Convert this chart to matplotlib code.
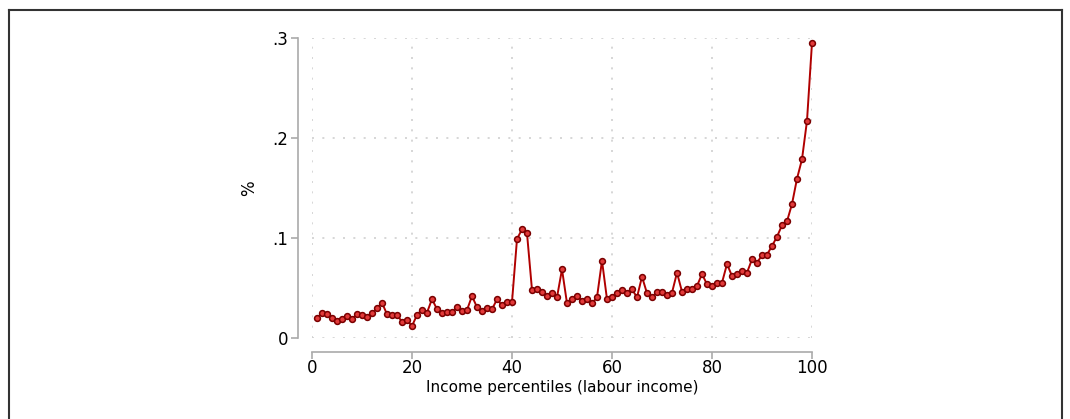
import matplotlib
matplotlib.use("Agg")
from matplotlib import pyplot as plt
from matplotlib.lines import Line2D

# percentiles 1..100 and share (%)
percentile = list(range(1, 101))
share = [
    0.0203, 0.0247, 0.0240, 0.0200, 0.0173, 0.0193, 0.0217, 0.0193, 0.0237, 0.0227,
    0.0213, 0.0247, 0.0297, 0.0353, 0.0237, 0.0230, 0.0230, 0.0163, 0.0180, 0.0120,
    0.0230, 0.0285, 0.0253, 0.0390, 0.0287, 0.0247, 0.0260, 0.0260, 0.0307, 0.0267,
    0.0280, 0.0420, 0.0307, 0.0273, 0.0300, 0.0287, 0.0387, 0.0327, 0.0360, 0.0360,
    0.0990, 0.1087, 0.1047, 0.0480, 0.0493, 0.0463, 0.0420, 0.0447, 0.0407, 0.0687,
    0.0347, 0.0387, 0.0420, 0.0373, 0.0387, 0.0347, 0.0407, 0.0773, 0.0387, 0.0413,
    0.0447, 0.0480, 0.0447, 0.0487, 0.0407, 0.0613, 0.0447, 0.0407, 0.0460, 0.0458,
    0.0430, 0.0453, 0.0653, 0.0463, 0.0487, 0.0493, 0.0520, 0.0640, 0.0537, 0.0520,
    0.0553, 0.0553, 0.0740, 0.0620, 0.0640, 0.0670, 0.0653, 0.0787, 0.0753, 0.0827,
    0.0833, 0.0920, 0.1013, 0.1127, 0.1167, 0.1340, 0.1593, 0.1787, 0.2173, 0.2953,
]
xticks = [0, 20, 40, 60, 80, 100]
yticks = [0, 0.1, 0.2, 0.3]
ytick_labels = ["0", ".1", ".2", ".3"]

W, H = 1070, 419
fig = plt.figure(figsize=(W / 100, H / 100), dpi=100)
ax = fig.add_axes([312 / W, (H - 338) / H, 500 / W, 300 / H])

# outer frame (bottom edge lies outside the picture)
frame = dict(color="#333333", lw=1.5, transform=fig.transFigure)
fig.add_artist(Line2D([9 / W, 9 / W], [0, 1 - 10 / H], **frame))
fig.add_artist(Line2D([9 / W, 1062 / W], [1 - 10 / H, 1 - 10 / H], **frame))
fig.add_artist(Line2D([1062 / W, 1062 / W], [0, 1 - 10 / H], **frame))

ax.plot(percentile, share, color="#b00000", linewidth=1.4, marker="o",
        markersize=4.2, markerfacecolor="#e23a3a", markeredgecolor="#7a0000",
        markeredgewidth=1.1, clip_on=False, zorder=3)

ax.set_xlim(0, 100)
ax.set_ylim(0, 0.3)
ax.set_xticks(xticks)
ax.set_yticks(yticks)
ax.set_yticklabels(ytick_labels)

ax.grid(True, color="#d0d0d0", linestyle=(0, (1.2, 5)), linewidth=1.2)
ax.set_axisbelow(True)

for s in ["top", "right"]:
    ax.spines[s].set_visible(False)
for s in ["left", "bottom"]:
    ax.spines[s].set_position(("outward", 10))
    ax.spines[s].set_color("#aaaaaa")
    ax.spines[s].set_linewidth(1.2)

ax.tick_params(axis="both", colors="#aaaaaa", labelcolor="black",
               labelsize=12, length=5, width=1.2, pad=2)
ax.tick_params(axis="x", pad=0)

ax.set_xlabel("Income percentiles (labour income)", fontsize=11, labelpad=2)
ax.set_ylabel("%", fontsize=12, labelpad=10)

plt.savefig("out.png", dpi=100)
